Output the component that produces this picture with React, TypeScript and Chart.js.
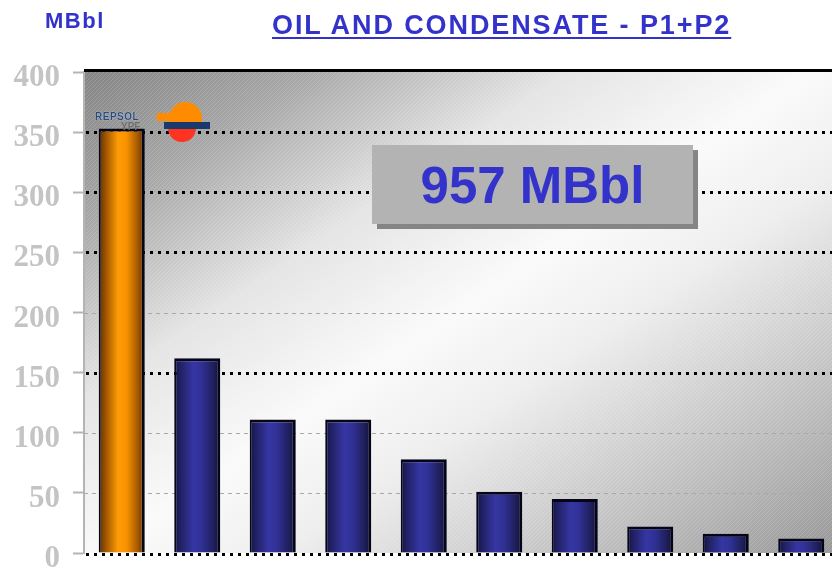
import React, { useEffect, useRef } from 'react';
import { Chart, registerables } from 'chart.js';

Chart.register(...registerables);

// ---------- data ----------
const categories = ['Repsol YPF', 'Peer 1', 'Peer 2', 'Peer 3', 'Peer 4', 'Peer 5', 'Peer 6', 'Peer 7', 'Peer 8', 'Peer 9'];
const reserves = [353, 162, 111, 111, 78, 51, 45, 22, 16, 12];
const highlightIndex = 0;
const yMin = 0;
const yMax = 400;
const yStep = 50;
const dottedGridValues = [150, 250, 300, 350];
const dashedGridValues = [50, 100, 200];
const titleText = 'OIL AND CONDENSATE - P1+P2';
const unitText = 'MBbl';
const totalText = '957 MBbl';
const logoWord = 'REPSOL';
const logoSub = 'YPF';

const BAR_PCT = 0.61;

function barGradient(c: any, highlight: boolean) {
  const chart = c.chart;
  const xs = chart.scales && chart.scales.x;
  if (!xs || !chart.chartArea) return highlight ? '#ff9900' : '#333399';
  const cx = xs.getPixelForValue(c.dataIndex);
  const w = (xs.width / categories.length) * BAR_PCT;
  const g = chart.ctx.createLinearGradient(cx - w / 2, 0, cx + w / 2, 0);
  if (highlight) {
    g.addColorStop(0, '#5e3000');
    g.addColorStop(0.15, '#9c5400');
    g.addColorStop(0.42, '#ff9c05');
    g.addColorStop(0.6, '#f99300');
    g.addColorStop(0.85, '#a45800');
    g.addColorStop(1, '#5a2e00');
  } else {
    g.addColorStop(0, '#141440');
    g.addColorStop(0.15, '#222268');
    g.addColorStop(0.42, '#3636a4');
    g.addColorStop(0.6, '#303094');
    g.addColorStop(0.85, '#1f1f5c');
    g.addColorStop(1, '#111134');
  }
  return g;
}

const backgroundPlugin = {
  id: 'panelBackground',
  beforeDraw(chart: any) {
    const { ctx, chartArea: a } = chart;
    if (!a) return;
    ctx.save();
    ctx.beginPath();
    ctx.rect(a.left, a.top, a.right - a.left, a.bottom - a.top);
    ctx.clip();
    const L = 817;
    const g = ctx.createLinearGradient(a.left, a.top, a.left + 0.561 * L, a.top + 0.828 * L);
    g.addColorStop(0, '#848484');
    g.addColorStop(0.15, '#a6a6a6');
    g.addColorStop(0.33, '#e4e4e4');
    g.addColorStop(0.5, '#fafafa');
    g.addColorStop(0.62, '#eeeeee');
    g.addColorStop(0.76, '#cfcfcf');
    g.addColorStop(1, '#989898');
    ctx.fillStyle = g;
    ctx.fillRect(a.left, a.top, a.right - a.left, a.bottom - a.top);
    // diagonal hatch
    ctx.beginPath();
    const h = a.bottom - a.top;
    for (let x = a.left - h; x < a.right; x += 4) {
      ctx.moveTo(x, a.bottom);
      ctx.lineTo(x + h, a.top);
    }
    ctx.strokeStyle = 'rgba(255,255,255,0.16)';
    ctx.lineWidth = 1;
    ctx.stroke();
    ctx.restore();
  },
  beforeDatasetsDraw(chart: any) {
    const { ctx, chartArea: a } = chart;
    const y = chart.scales.y;
    ctx.save();
    // dashed grey lines
    ctx.setLineDash([4, 4]);
    ctx.lineWidth = 1;
    ctx.strokeStyle = '#a8a8a8';
    dashedGridValues.forEach((v) => {
      const py = Math.round(y.getPixelForValue(v)) + 0.5;
      ctx.beginPath();
      ctx.moveTo(a.left, py);
      ctx.lineTo(a.right, py);
      ctx.stroke();
    });
    // dotted black lines
    ctx.setLineDash([3, 5]);
    ctx.lineWidth = 3;
    ctx.strokeStyle = '#000';
    dottedGridValues.forEach((v) => {
      const py = Math.round(y.getPixelForValue(v)) + 0.5;
      ctx.beginPath();
      ctx.moveTo(a.left + 2, py);
      ctx.lineTo(a.right, py);
      ctx.stroke();
    });
    // zero line
    const p0 = Math.round(y.getPixelForValue(yMin)) + 1.5;
    ctx.beginPath();
    ctx.moveTo(a.left + 2, p0);
    ctx.lineTo(a.right, p0);
    ctx.stroke();
    // top border
    ctx.setLineDash([]);
    const pt = Math.round(y.getPixelForValue(yMax)) - 1.5;
    ctx.beginPath();
    ctx.moveTo(a.left, pt);
    ctx.lineTo(a.right, pt);
    ctx.stroke();
    ctx.restore();
  },
};

function ChartCanvas() {
  const ref = useRef<HTMLCanvasElement | null>(null);
  useEffect(() => {
    if (!ref.current) return;
    const chart = new Chart(ref.current, {
      type: 'bar',
      data: {
        labels: categories,
        datasets: [
          {
            data: reserves,
            backgroundColor: (c: any) => barGradient(c, c.dataIndex === highlightIndex),
            borderColor: '#05051a',
            borderWidth: { left: 2, right: 3, top: 3, bottom: 0 },
            borderSkipped: false,
            barPercentage: BAR_PCT,
            categoryPercentage: 1,
          },
        ],
      },
      options: {
        responsive: false,
        animation: false,
        events: [],
        layout: { padding: { top: 72, bottom: 14, left: 0, right: 6 } },
        plugins: { legend: { display: false }, tooltip: { enabled: false }, title: { display: false } },
        scales: {
          x: { display: false, offset: true },
          y: {
            min: yMin,
            max: yMax,
            position: 'left',
            ticks: {
              stepSize: yStep,
              color: '#c4c4c4',
              padding: 13,
              labelOffset: 6,
              font: { family: "'Liberation Serif', 'Times New Roman', serif", size: 31, weight: 'bold' },
            },
            grid: {
              drawOnChartArea: false,
              drawTicks: true,
              tickLength: 11,
              tickColor: '#b4b4b4',
              tickWidth: 2,
            },
            border: { display: true, color: '#b4b4b4', width: 2 },
            afterFit: (s: any) => {
              s.width = 84;
              s.paddingTop = 0;
              s.paddingBottom = 0;
            },
          },
        },
      },
      plugins: [backgroundPlugin],
    } as any);
    return () => chart.destroy();
  }, []);
  return <canvas ref={ref} width={845} height={567} style={{ display: 'block', position: 'absolute', left: 0, top: 0 }} />;
}

export default function App() {
  const sans = "'Liberation Sans', Arial, sans-serif";
  return (
    <div style={{ position: 'absolute', left: 0, top: 0, width: 832, height: 567, overflow: 'hidden', background: '#fff' }}>
      <ChartCanvas />
      <div style={{ position: 'absolute', left: 45, top: 10, fontFamily: sans, fontWeight: 'bold', fontSize: 22, lineHeight: '22px', letterSpacing: '1.5px', color: '#3333cc' }}>{unitText}</div>
      <div
        style={{
          position: 'absolute', left: 272, top: 12, fontFamily: sans, fontWeight: 'bold', fontSize: 27, lineHeight: '27px',
          letterSpacing: '1.9px', color: '#3333cc', whiteSpace: 'nowrap', textDecoration: 'underline', textDecorationThickness: '2px', textUnderlineOffset: '3px',
        }}
      >
        {titleText}
      </div>
      <div
        style={{
          position: 'absolute', left: 372, top: 145, width: 321, height: 79, background: '#b3b3b3', boxShadow: '5px 5px 0 #858585',
          display: 'flex', alignItems: 'center', justifyContent: 'center', fontFamily: sans, fontWeight: 'bold', fontSize: 51, color: '#3333cc',
        }}
      >
        <span style={{ lineHeight: '51px', marginTop: 2 }}>{totalText}</span>
      </div>
      {/* logo */}
      <div style={{ position: 'absolute', left: 95, top: 112, fontFamily: sans, fontWeight: 'bold', fontSize: 10, lineHeight: '10px', color: '#2a4a80', letterSpacing: '0.5px', textShadow: '0 0 1px #fff' }}>{logoWord}</div>
      <div style={{ position: 'absolute', left: 121, top: 122, fontFamily: sans, fontWeight: 'bold', fontSize: 10, lineHeight: '10px', color: '#707070' }}>{logoSub}</div>
      <div style={{ position: 'absolute', left: 169, top: 102, width: 33, height: 20, background: '#ff8c00', borderRadius: '17px 17px 0 0' }} />
      <div style={{ position: 'absolute', left: 157, top: 113, width: 18, height: 8, background: '#ff8c00' }} />
      <div style={{ position: 'absolute', left: 168, top: 128, width: 28, height: 14, background: '#ff3322', borderRadius: '0 0 14px 14px' }} />
      <div style={{ position: 'absolute', left: 164, top: 122, width: 46, height: 7, background: '#1a3a6e' }} />
    </div>
  );
}
